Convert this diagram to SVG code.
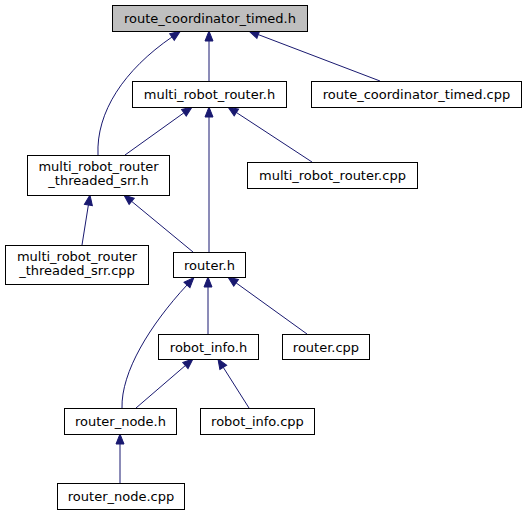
<svg xmlns="http://www.w3.org/2000/svg" width="527" height="515" viewBox="0 0 527 515">
<style>
.node rect{fill:#ffffff;stroke:#000000;stroke-width:1}
.node.root rect{fill:#bfbfbf}
.node text{font-family:"DejaVu Sans","Liberation Sans",sans-serif;font-size:13px;fill:#000000;text-anchor:middle}
.edges path{fill:none;stroke:#191970;stroke-width:1;marker-end:url(#ah)}
</style>
<defs>
<marker id="ah" markerWidth="11" markerHeight="9" refX="0" refY="4" orient="auto" markerUnits="userSpaceOnUse" overflow="visible">
<path d="M0,0 L10,4 L0,8 z" fill="#191970" stroke="#191970" stroke-width="1"/>
</marker>
</defs>
<rect width="527" height="515" fill="#ffffff"/>
<g class="edges">
<path d="M209,81 V41"/>
<path d="M380,81 L258.3,34.6"/>
<path d="M98,155 C96,112 124,70 172,37"/>
<path d="M125,155 L183.9,112.8"/>
<path d="M312,162 L236.4,112.5"/>
<path d="M209,252 V117"/>
<path d="M82,245 L88.4,204.9"/>
<path d="M193,252 L131.7,201.4"/>
<path d="M208,334 V287"/>
<path d="M307,334 L236.1,282.9"/>
<path d="M122,408 C121,372 150,325 187,285"/>
<path d="M136,408 L185.4,365.5"/>
<path d="M249,408 L223.3,367.4"/>
<path d="M120,483 V444"/>
</g>
<g id="route_coordinator_timed_h" class="node root"><rect x="112.5" y="5.5" width="195" height="26"/><text x="210" y="23">route_coordinator_timed.h</text></g>
<g id="multi_robot_router_h" class="node"><rect x="132.5" y="81.5" width="154" height="26"/><text x="209.5" y="99">multi_robot_router.h</text></g>
<g id="route_coordinator_timed_cpp" class="node"><rect x="311.5" y="81.5" width="210" height="26"/><text x="416.5" y="99">route_coordinator_timed.cpp</text></g>
<g id="multi_robot_router_threaded_srr_h" class="node"><rect x="27.5" y="155.5" width="142" height="40"/><text x="98.5" y="170.5">multi_robot_router</text><text x="98.5" y="185">_threaded_srr.h</text></g>
<g id="multi_robot_router_cpp" class="node"><rect x="247.5" y="162.5" width="170" height="26"/><text x="332.5" y="180">multi_robot_router.cpp</text></g>
<g id="multi_robot_router_threaded_srr_cpp" class="node"><rect x="5.5" y="245.5" width="143" height="39"/><text x="77" y="260.5">multi_robot_router</text><text x="77" y="274.5">_threaded_srr.cpp</text></g>
<g id="router_h" class="node"><rect x="173.5" y="252.5" width="72" height="25"/><text x="209.5" y="269.5">router.h</text></g>
<g id="robot_info_h" class="node"><rect x="158.5" y="334.5" width="100" height="25"/><text x="208.5" y="351.5">robot_info.h</text></g>
<g id="router_cpp" class="node"><rect x="282.5" y="334.5" width="87" height="25"/><text x="326" y="351.5">router.cpp</text></g>
<g id="router_node_h" class="node"><rect x="64.5" y="408.5" width="112" height="26"/><text x="120.5" y="426">router_node.h</text></g>
<g id="robot_info_cpp" class="node"><rect x="200.5" y="408.5" width="114" height="26"/><text x="257.5" y="426">robot_info.cpp</text></g>
<g id="router_node_cpp" class="node"><rect x="57.5" y="483.5" width="127" height="26"/><text x="121" y="501">router_node.cpp</text></g>
</svg>
